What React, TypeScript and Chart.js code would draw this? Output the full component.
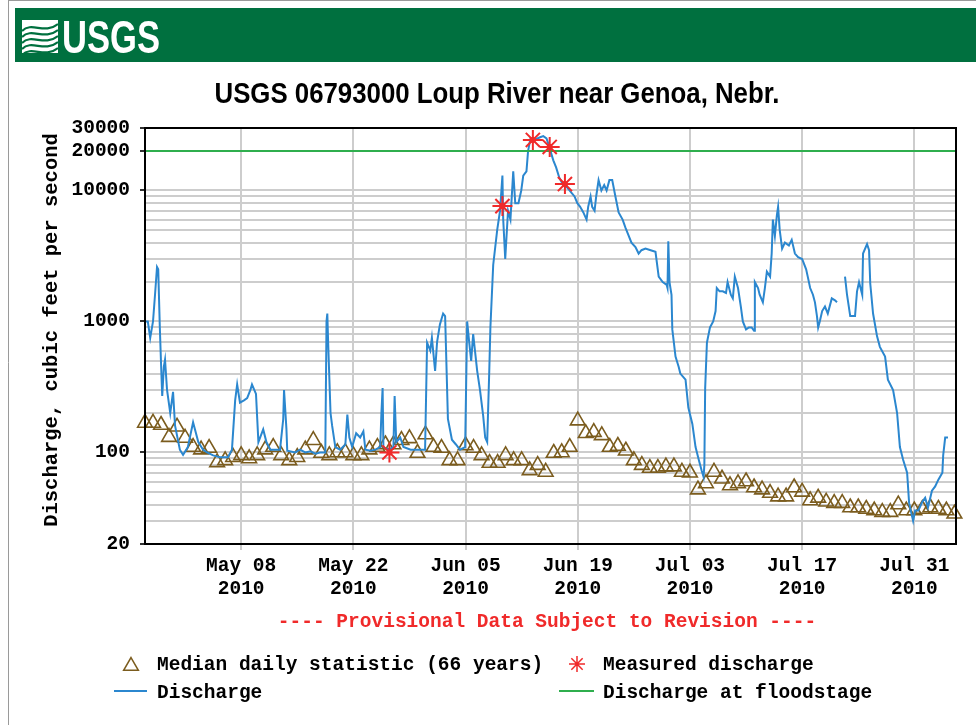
import React, { useEffect, useRef } from 'react';
import { Chart, registerables } from 'chart.js';

Chart.register(...registerables);

// ---------- text ----------
const TITLE = 'USGS 06793000 Loup River near Genoa, Nebr.';
const Y_LABEL = 'Discharge, cubic feet per second';
const PROVISIONAL = '---- Provisional Data Subject to Revision ----';
const LEGEND_MEDIAN = 'Median daily statistic (66 years)';
const LEGEND_MEASURED = 'Measured discharge';
const LEGEND_DISCHARGE = 'Discharge';
const LEGEND_FLOOD = 'Discharge at floodstage';

// ---------- axes (x = days since 2010-04-26) ----------
const X_MIN = 0;
const X_MAX = 101.2;
const xTickDays = [12, 26, 40, 54, 68, 82, 96];
const xTickLabels = [
  ['May 08', '2010'],
  ['May 22', '2010'],
  ['Jun 05', '2010'],
  ['Jun 19', '2010'],
  ['Jul 03', '2010'],
  ['Jul 17', '2010'],
  ['Jul 31', '2010'],
];
const Y_MIN = 20;
const Y_MAX = 30000;
const yTickValues = [20, 100, 1000, 10000, 20000, 30000];
const yGridValues = [
  20, 30, 40, 50, 60, 70, 80, 90,
  100, 200, 300, 400, 500, 600, 700, 800, 900,
  1000, 2000, 3000, 4000, 5000, 6000, 7000, 8000, 9000,
  10000, 20000, 30000,
];

// ---------- data ----------
const FLOODSTAGE = 20000;

const dischargeDays = [
  0.1, 0.35, 0.65, 1.0, 1.25, 1.5, 1.65, 1.85, 2.0, 2.15, 2.35, 2.5, 2.75, 3.15, 3.5, 3.75,
  4.35, 4.75, 5.35, 6.0, 6.65, 7.25, 7.75, 8.5, 9.35, 10.35, 10.85, 11.25, 11.5, 11.85,
  12.35, 12.75, 13.15, 13.35, 13.85, 14.15, 14.75, 15.15, 15.65, 16.85, 17.25, 17.35,
  17.65, 17.75, 18.75, 19.35, 20.0, 20.65, 21.25, 21.85, 22.5, 22.65, 22.75, 22.85,
  23.15, 23.35, 23.75, 24.35, 25.0, 25.25, 25.5, 25.85, 26.35, 26.85, 27.25, 27.5,
  28.15, 28.75, 29.35, 29.5, 29.65, 29.75, 30.35, 31.0, 31.15, 31.35, 31.85, 32.25,
  33.15, 34.35, 34.95, 35.2, 35.6, 35.8, 36.2, 36.45, 36.8, 37.2, 37.45, 37.8, 38.3,
  38.8, 39.3, 39.95, 40.2, 40.45, 40.7, 40.95, 41.45, 41.8, 42.2, 42.45, 42.7, 42.95,
  43.1, 43.45, 43.95, 44.3, 44.6, 44.7, 44.95, 45.3, 45.6, 45.95, 46.2, 46.6, 46.95,
  47.2, 47.6, 47.8, 48.1, 48.7, 49.3, 49.7, 50.1, 50.3, 50.6, 50.95, 51.3, 51.7, 52.2,
  52.7, 53.1, 53.6, 53.95, 54.3, 54.7, 55.1, 55.3, 55.6, 55.8, 56.1, 56.3, 56.6, 56.95,
  57.3, 57.6, 57.95, 58.3, 58.7, 59.1, 59.6, 59.95, 60.3, 60.7, 61.2, 61.6, 61.95,
  62.45, 63.1, 63.7, 64.1, 64.6, 65.1, 65.2, 65.3, 65.45, 65.7, 65.8, 66.2, 66.6, 66.8,
  67.45, 67.8, 68.3, 68.7, 69.1, 69.45, 69.7, 69.8, 69.9, 70.12, 70.5, 70.9, 71.2,
  71.35, 71.7, 72.1, 72.5, 72.7, 73.1, 73.35, 73.6, 74.0, 74.35, 74.6, 75.0, 75.35,
  75.7, 76.0, 76.1, 76.5, 76.7, 77.1, 77.35, 77.6, 78.0, 78.2, 78.35, 78.6, 78.85,
  79.0, 79.2, 79.5, 79.85, 80.35, 80.7, 81.1, 81.5, 82.0, 82.5, 82.7, 83.0, 83.35,
  83.6, 83.85, 84.0, 84.2, 84.5, 84.85, 85.2, 85.7, 86.1, 86.35, 86.7, 87.35, 87.6,
  88.0, 88.6, 88.85, 89.1, 89.5, 89.6, 90.1, 90.35, 90.5, 90.85, 91.35, 91.7, 92.35,
  92.7, 93.35, 93.85, 94.2, 94.6, 95.1, 95.35, 95.85, 96.1, 96.5, 97.0, 97.35, 97.7,
  98.2, 98.6, 99.0, 99.5, 99.6, 99.85, 100.2,
];
const dischargeValues = [
  1000, 1000, 750, 1000, 1600, 2600, 2500, 900, 480, 270, 450, 510, 300, 200, 290, 160,
  105, 96, 110, 170, 120, 105, 100, 95, 92, 92, 105, 250, 330, 240,
  250, 260, 300, 330, 280, 120, 150, 120, 105, 105, 180, 300,
  150, 103, 100, 105, 100, 102, 98, 100, 100, 1000, 1150, 700,
  200, 160, 110, 105, 115, 195, 130, 110, 140, 130, 145, 105,
  103, 105, 110, 200, 310, 110, 105, 110, 270, 120, 130, 110,
  105, 105, 105, 690, 600, 750, 420, 700, 950, 1150, 1100, 180, 125,
  115, 105, 110, 1000, 700, 500, 800, 420, 300, 190, 130, 120, 400,
  900, 2700, 5000, 7000, 13000, 6000, 3000, 7000, 6000, 14000, 8000, 8000, 10000,
  13000, 14000, 20000, 25000, 24500, 25500, 26000, 25000, 23000, 20000, 17000, 15000, 12500, 11000,
  10500, 9800, 9000, 8000, 7500, 6800, 6000, 7500, 9000, 7500, 7000, 9000, 12000, 10000,
  11000, 10000, 12000, 12000, 9000, 6800, 6000, 5200, 4600, 4000, 3700, 3300, 3500,
  3600, 3500, 3400, 2200, 2000, 1900, 1800, 4100, 2000, 1600, 870, 540, 450, 400,
  360, 220, 165, 110, 88, 73, 65, 80, 310, 690, 900, 1000, 1200,
  1800, 1700, 1700, 1650, 2000, 1600, 1500, 2200, 1800, 1300, 1000, 870, 900,
  900, 850, 2000, 1800, 1600, 1400, 1800, 2400, 2200, 3300, 6000, 4500, 6500,
  7500, 5000, 3600, 4000, 3800, 4200, 3300, 3100, 3000, 2500, 2200, 1800, 1600,
  1400, 1100, 900, 1000, 1200, 1300, 1150, 1500, 1450, 1400, null, 2200, 1600,
  1100, 1100, 1700, 2000, 1600, 3300, 3900, 3500, 1950, 1150, 770, 640, 540,
  360, 300, 200, 110, 88, 70, 41, 30, 36, 36, 42, 45, 38,
  51, 55, 62, 70, 95, 130, 130,
];

// median daily statistic, one value per day starting 2010-04-26
const medianValues = [
  168, 168, 162, 131, 157, 129, 110, 105, 108, 84, 87, 92, 95, 90, 95, 105, 110, 95, 87, 92,
  105, 124, 99, 95, 100, 100, 95, 95, 105, 110, 115, 115, 124, 128, 99, 137, 110, 108, 87, 87,
  113, 108, 95, 83, 83, 95, 87, 87, 73, 80, 71, 99, 100, 110, 175, 140, 143, 135, 110, 112,
  103, 87, 80, 76, 76, 78, 78, 71, 70, 52, 58, 71, 63, 56, 58, 60, 54, 52, 49, 46,
  46, 54, 50, 43, 45, 42, 41, 41, 38, 38, 37, 36, 35, 35, 40, 36, 36, 37, 38, 37,
  36, 34,
];

const measuredDays = [30.5, 44.6, 48.4, 50.5, 52.4];
const measuredValues = [100, 7600, 24300, 21500, 11200];

// ---------- style ----------
const MONO = '"Liberation Mono", "DejaVu Sans Mono", monospace';
const FONT_PX = 19.5;
const BLUE = '#2b87cf';
const GREEN = '#2fae4e';
const BROWN = '#7b5c1e';
const RED = '#f02a2a';
const GRID = '#cdcdcd';
const BANNER = '#00703f';

function drawTriangle(ctx: CanvasRenderingContext2D, x: number, y: number, r: number) {
  ctx.beginPath();
  ctx.moveTo(x, y - r);
  ctx.lineTo(x + r * Math.sin((2 * Math.PI) / 3), y - r * Math.cos((2 * Math.PI) / 3));
  ctx.lineTo(x + r * Math.sin((4 * Math.PI) / 3), y - r * Math.cos((4 * Math.PI) / 3));
  ctx.closePath();
  ctx.stroke();
}

function drawStar(ctx: CanvasRenderingContext2D, x: number, y: number, r: number) {
  ctx.beginPath();
  for (let k = 0; k < 4; k++) {
    const a = (k * Math.PI) / 4;
    ctx.moveTo(x - Math.cos(a) * r, y - Math.sin(a) * r);
    ctx.lineTo(x + Math.cos(a) * r, y + Math.sin(a) * r);
  }
  ctx.stroke();
}

const decorations = {
  id: 'decorations',
  beforeDraw(chart: any) {
    const ctx: CanvasRenderingContext2D = chart.ctx;
    ctx.save();
    ctx.fillStyle = '#ffffff';
    ctx.fillRect(0, 0, chart.width, chart.height);
    // frame
    ctx.strokeStyle = '#9a9a9a';
    ctx.lineWidth = 1;
    ctx.beginPath();
    ctx.moveTo(8.5, 0);
    ctx.lineTo(8.5, chart.height);
    ctx.moveTo(8, 0.5);
    ctx.lineTo(chart.width, 0.5);
    ctx.stroke();
    // banner
    ctx.fillStyle = BANNER;
    ctx.fillRect(15, 8, chart.width - 15, 54);
    // logo icon
    ctx.fillStyle = '#ffffff';
    ctx.fillRect(22, 20, 36, 33);
    ctx.strokeStyle = BANNER;
    ctx.lineWidth = 2.2;
    for (let k = 0; k < 5; k++) {
      const yy = 27 + k * 6;
      ctx.beginPath();
      ctx.moveTo(22, yy + 4);
      ctx.bezierCurveTo(32, yy - 6, 44, yy + 8, 58, yy - 3);
      ctx.stroke();
    }
    // logo text
    ctx.fillStyle = '#ffffff';
    ctx.font = 'bold 46px "Liberation Sans Narrow", "Liberation Sans", Arial, sans-serif';
    ctx.textBaseline = 'alphabetic';
    ctx.textAlign = 'left';
    const lw = ctx.measureText('USGS').width;
    ctx.save();
    ctx.translate(62, 53);
    ctx.scale(98 / lw, 1);
    ctx.fillText('USGS', 0, 0);
    ctx.restore();
    // title
    ctx.fillStyle = '#000000';
    ctx.font = 'bold 30px "Liberation Sans Narrow", "Liberation Sans", Arial, sans-serif';
    const tw = ctx.measureText(TITLE).width;
    ctx.save();
    ctx.translate(497, 103);
    ctx.scale(565 / tw, 1);
    ctx.textAlign = 'center';
    ctx.fillText(TITLE, 0, 0);
    ctx.restore();
    ctx.restore();
  },
  afterDraw(chart: any) {
    const ctx: CanvasRenderingContext2D = chart.ctx;
    const a = chart.chartArea;
    ctx.save();
    // plot box
    ctx.strokeStyle = '#000000';
    ctx.lineWidth = 2;
    ctx.strokeRect(a.left, a.top, a.right - a.left, a.bottom - a.top);
    // measured discharge centre dots
    const meta = chart.getDatasetMeta(0);
    ctx.fillStyle = RED;
    meta.data.forEach((p: any) => {
      ctx.beginPath();
      ctx.arc(p.x, p.y, 3, 0, Math.PI * 2);
      ctx.fill();
    });
    // y axis title
    ctx.font = `bold 20.5px ${MONO}`;
    ctx.fillStyle = '#000000';
    ctx.textBaseline = 'middle';
    ctx.save();
    ctx.translate(52, 330);
    ctx.rotate(-Math.PI / 2);
    ctx.textAlign = 'center';
    ctx.fillText(Y_LABEL, 0, 0);
    ctx.restore();
    // provisional
    ctx.font = `bold ${FONT_PX}px ${MONO}`;
    ctx.textAlign = 'center';
    ctx.fillStyle = RED;
    ctx.fillText(PROVISIONAL, 547, 622);
    // legend
    ctx.textAlign = 'left';
    ctx.fillStyle = '#000000';
    ctx.fillText(LEGEND_MEDIAN, 157, 665);
    ctx.fillText(LEGEND_MEASURED, 603, 665);
    ctx.fillText(LEGEND_DISCHARGE, 157, 693);
    ctx.fillText(LEGEND_FLOOD, 603, 693);
    ctx.strokeStyle = BROWN;
    ctx.lineWidth = 1.5;
    drawTriangle(ctx, 131, 666, 8.5);
    ctx.strokeStyle = RED;
    ctx.lineWidth = 1.5;
    drawStar(ctx, 577, 664, 8);
    ctx.lineWidth = 2;
    ctx.strokeStyle = BLUE;
    ctx.beginPath();
    ctx.moveTo(114, 691);
    ctx.lineTo(147, 691);
    ctx.stroke();
    ctx.strokeStyle = GREEN;
    ctx.beginPath();
    ctx.moveTo(559, 691);
    ctx.lineTo(594, 691);
    ctx.stroke();
    ctx.restore();
  },
};

export default function App() {
  const ref = useRef<HTMLCanvasElement>(null);

  useEffect(() => {
    const canvas = ref.current;
    if (!canvas) return;
    const font = { family: MONO, size: FONT_PX, weight: 'bold' as const, lineHeight: 1.2 };
    const chart = new Chart(canvas, {
      type: 'line',
      data: {
        datasets: [
          {
            label: LEGEND_MEASURED,
            data: measuredDays.map((d, i) => ({ x: d, y: measuredValues[i] })),
            showLine: false,
            pointStyle: 'star',
            pointRadius: 10,
            pointBorderWidth: 2,
            borderColor: RED,
            backgroundColor: RED,
            clip: false as any,
          },
          {
            label: LEGEND_FLOOD,
            data: [
              { x: X_MIN, y: FLOODSTAGE },
              { x: X_MAX, y: FLOODSTAGE },
            ],
            borderColor: GREEN,
            borderWidth: 2,
            pointRadius: 0,
          },
          {
            label: LEGEND_DISCHARGE,
            data: dischargeDays.map((d, i) => ({ x: d, y: dischargeValues[i] as any })),
            borderColor: BLUE,
            borderWidth: 2,
            pointRadius: 0,
            spanGaps: false,
            tension: 0,
          },
          {
            label: LEGEND_MEDIAN,
            data: medianValues.map((v, i) => ({ x: i, y: v })),
            showLine: false,
            pointStyle: 'triangle',
            pointRadius: 8.5,
            pointBorderWidth: 1.6,
            borderColor: BROWN,
            backgroundColor: 'rgba(0,0,0,0)',
            clip: false as any,
          },
        ],
      },
      options: {
        responsive: false,
        animation: false,
        events: [],
        layout: { padding: { left: 8, top: 128, right: 20, bottom: 0 } },
        plugins: {
          legend: { display: false },
          title: { display: false },
          tooltip: { enabled: false },
        },
        scales: {
          x: {
            type: 'linear',
            min: X_MIN,
            max: X_MAX,
            afterBuildTicks: (s: any) => {
              s.ticks = xTickDays.map((v) => ({ value: v }));
            },
            afterFit: (s: any) => {
              s.height = 181;
            },
            ticks: {
              autoSkip: false,
              maxRotation: 0,
              minRotation: 0,
              padding: 4,
              color: '#000',
              font,
              callback: (v: any) => xTickLabels[xTickDays.indexOf(Number(v))] as any,
            },
            grid: {
              color: GRID,
              lineWidth: 2,
              tickLength: 6,
              tickColor: GRID,
            },
            border: { display: false },
          },
          y: {
            type: 'logarithmic',
            min: Y_MIN,
            max: Y_MAX,
            afterBuildTicks: (s: any) => {
              s.ticks = yGridValues.map((v) => ({ value: v }));
            },
            afterFit: (s: any) => {
              s.width = 137;
            },
            ticks: {
              autoSkip: false,
              padding: 10,
              color: '#000',
              font,
              callback: (v: any) => (yTickValues.includes(Number(v)) ? String(v) : ''),
            },
            grid: {
              color: GRID,
              lineWidth: 2,
              tickLength: 5,
              tickColor: (c: any) =>
                c.tick && yTickValues.includes(c.tick.value) ? '#333' : 'rgba(0,0,0,0)',
            },
            border: { display: false },
          },
        },
      },
      plugins: [decorations],
    });
    return () => chart.destroy();
  }, []);

  return (
    <div style={{ position: 'absolute', left: 0, top: 0, width: 976, height: 725, background: '#fff' }}>
      <canvas ref={ref} width={976} height={725} style={{ display: 'block', width: 976, height: 725 }} />
    </div>
  );
}
